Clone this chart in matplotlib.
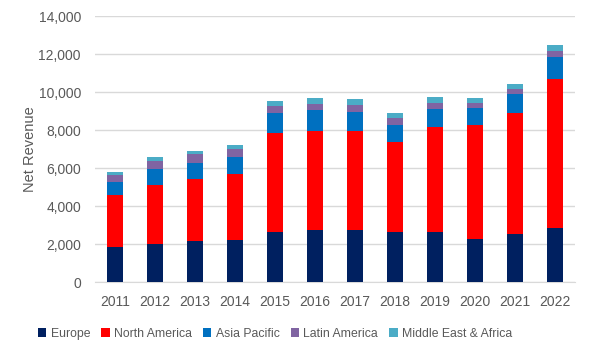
import matplotlib.pyplot as plt
import numpy as np

plt.rcParams['font.family'] = ['Liberation Sans', 'DejaVu Sans']

# data
years = ['2011', '2012', '2013', '2014', '2015', '2016',
         '2017', '2018', '2019', '2020', '2021', '2022']
europe = [1860, 1985, 2160, 2230, 2650, 2735, 2735, 2615, 2615, 2265, 2525, 2860]
north_america = [2720, 3120, 3260, 3475, 5175, 5210, 5195, 4770, 5525, 6000, 6370, 7825]
asia_pacific = [685, 840, 840, 860, 1050, 1105, 1035, 910, 965, 910, 1015, 1175]
latin_america = [385, 440, 475, 420, 420, 315, 370, 335, 315, 230, 245, 315]
mea = [140, 175, 160, 245, 245, 300, 300, 280, 335, 280, 280, 315]

series = [('Europe', europe, '#002060'),
          ('North America', north_america, '#FF0000'),
          ('Asia Pacific', asia_pacific, '#0070C0'),
          ('Latin America', latin_america, '#8064A2'),
          ('Middle East & Africa', mea, '#4BACC6')]

txt = '#595959'
fig = plt.figure(figsize=(5.93, 3.58), dpi=100)
ax = fig.add_axes([0.160, 0.212, 0.810, 0.743])

x = np.arange(len(years))
bottom = np.zeros(len(years))
for name, vals, col in series:
    ax.bar(x, vals, 0.4, bottom=bottom, color=col, label=name, linewidth=0, zorder=3)
    bottom += np.array(vals)

ax.set_xlim(-0.5, len(years) - 0.5)
ax.set_ylim(0, 14000)
ax.set_yticks(np.arange(0, 14001, 2000))
ax.set_yticklabels([f'{v:,}' for v in range(0, 14001, 2000)])
ax.set_xticks(x)
ax.set_xticklabels(years)
ax.grid(axis='y', color='#D9D9D9', linewidth=1, zorder=0)
for s in ['top', 'right', 'left']:
    ax.spines[s].set_visible(False)
ax.spines['bottom'].set_color('#D9D9D9')
ax.tick_params(length=0, colors=txt, labelsize=10)
ax.tick_params(axis='y', pad=10)
ax.tick_params(axis='x', pad=9)
ax.set_ylabel('Net Revenue', color=txt, fontsize=10.5, labelpad=1)

fig.legend(loc='center left', bbox_to_anchor=(0.045, 0.067), ncol=5, frameon=False,
           fontsize=8.8, labelcolor=txt, handlelength=0.7, handleheight=0.7,
           handletextpad=0.35, columnspacing=0.9)

plt.savefig('out.png', dpi=100)
